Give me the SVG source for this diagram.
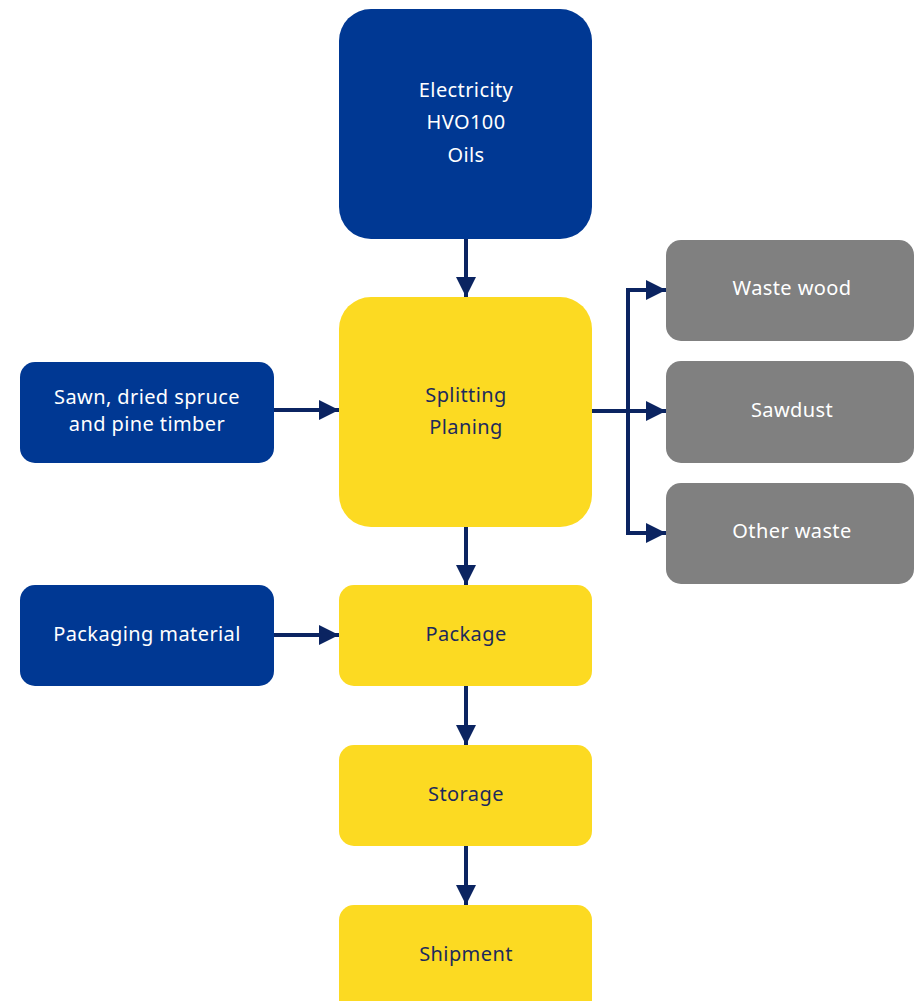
<svg xmlns="http://www.w3.org/2000/svg" width="914" height="1001" viewBox="0 0 914 1001">
<defs>
<style>
.blue{fill:#003893}
.yellow{fill:#fcda22}
.gray{fill:#808080}
.tw{fill:#ffffff;font-family:"Noto Sans","DejaVu Sans",sans-serif;font-size:20px;letter-spacing:0.4px;text-anchor:middle}
.td{fill:#1c2a5c;font-family:"Noto Sans","DejaVu Sans",sans-serif;font-size:20px;letter-spacing:0.4px;text-anchor:middle}
.conn{stroke:#0b2461;stroke-width:4;fill:none}
</style>
<marker id="ah" markerUnits="userSpaceOnUse" markerWidth="20" markerHeight="20" viewBox="0 0 20 20" refX="20" refY="10" orient="auto">
<path d="M0,0 L20,10 L0,20 Z" fill="#0b2461"/>
</marker>
</defs>
<rect width="914" height="1001" fill="#ffffff"/>
<g id="connectors">
<path class="conn" d="M466,239 V297" marker-end="url(#ah)"/>
<path class="conn" d="M274,410 H339" marker-end="url(#ah)"/>
<path class="conn" d="M592,411 H666" marker-end="url(#ah)"/>
<path class="conn" d="M628,411 V290 H666" marker-end="url(#ah)"/>
<path class="conn" d="M628,411 V533 H666" marker-end="url(#ah)"/>
<path class="conn" d="M466,527 V585" marker-end="url(#ah)"/>
<path class="conn" d="M274,635 H339" marker-end="url(#ah)"/>
<path class="conn" d="M466,686 V745" marker-end="url(#ah)"/>
<path class="conn" d="M466,846 V905" marker-end="url(#ah)"/>
</g>
<g id="energy">
<rect class="blue" x="339" y="9" width="253" height="230" rx="32"/>
<text class="tw" x="466" y="97">Electricity</text>
<text class="tw" x="466" y="129">HVO100</text>
<text class="tw" x="466" y="162">Oils</text>
</g>
<g id="splitting">
<rect class="yellow" x="339" y="297" width="253" height="230" rx="32"/>
<text class="td" x="466" y="402">Splitting</text>
<text class="td" x="466" y="434">Planing</text>
</g>
<g id="timber">
<rect class="blue" x="20" y="362" width="254" height="101" rx="15"/>
<text class="tw" x="147" y="404">Sawn, dried spruce</text>
<text class="tw" x="147" y="431">and pine timber</text>
</g>
<g id="wastewood">
<rect class="gray" x="666" y="240" width="248" height="101" rx="15"/>
<text class="tw" x="792" y="295">Waste wood</text>
</g>
<g id="sawdust">
<rect class="gray" x="666" y="361" width="248" height="102" rx="15"/>
<text class="tw" x="792" y="417">Sawdust</text>
</g>
<g id="otherwaste">
<rect class="gray" x="666" y="483" width="248" height="101" rx="15"/>
<text class="tw" x="792" y="538">Other waste</text>
</g>
<g id="packagingmaterial">
<rect class="blue" x="20" y="585" width="254" height="101" rx="15"/>
<text class="tw" x="147" y="641">Packaging material</text>
</g>
<g id="package">
<rect class="yellow" x="339" y="585" width="253" height="101" rx="15"/>
<text class="td" x="466" y="641">Package</text>
</g>
<g id="storage">
<rect class="yellow" x="339" y="745" width="253" height="101" rx="15"/>
<text class="td" x="466" y="801">Storage</text>
</g>
<g id="shipment">
<rect class="yellow" x="339" y="905" width="253" height="110" rx="15"/>
<text class="td" x="466" y="961">Shipment</text>
</g>
</svg>
